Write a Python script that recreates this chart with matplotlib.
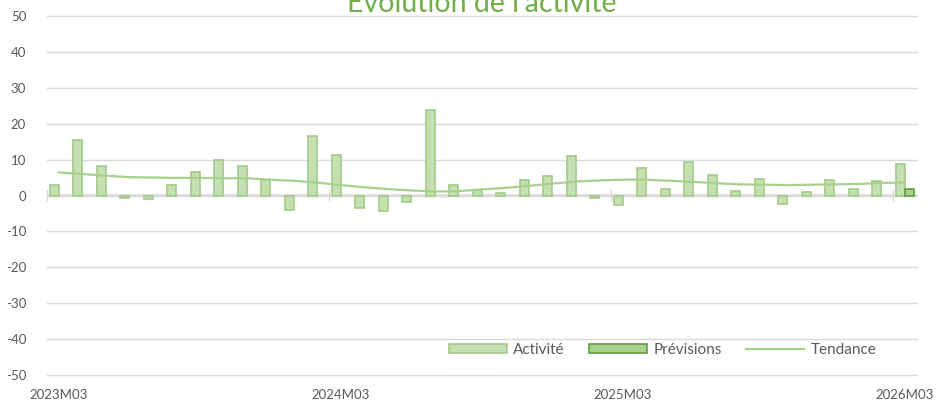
import numpy as np
import pandas as pd
import matplotlib
matplotlib.use("Agg")
import matplotlib.pyplot as plt
from matplotlib.patches import Patch
from matplotlib.lines import Line2D

plt.rcParams['font.family'] = ['Lato', 'DejaVu Sans']
plt.rcParams['axes.unicode_minus'] = False

# catégories mensuelles 2023M03 -> 2026M03
mois = [f"{p.year}M{p.month:02d}" for p in pd.period_range("2023-03", periods=37, freq="M")]

# activité mensuelle
activite = [2.8, 15.4, 8.3, -0.6, -1.0, 2.8, 6.6, 10.0, 8.1, 4.4,
            -4.0, 16.6, 11.2, -3.6, -4.4, -1.8, 23.7, 2.8, 1.4, 0.6,
            4.2, 5.4, 11.0, -0.8, -2.7, 7.7, 1.7, 9.4, 5.6, 1.3,
            4.5, -2.3, 1.0, 4.2, 1.9, 3.9, 8.8]

# prévisions (seulement le dernier mois)
mois_prev = ["2026M03"]
previsions = [1.8]

# tendance
tendance = [6.4, 6.0, 5.5, 5.1, 5.0, 4.9, 4.9, 4.8, 4.8, 4.4,
            4.1, 3.6, 2.9, 2.3, 1.8, 1.4, 1.1, 1.2, 1.7, 2.1,
            2.7, 3.3, 3.9, 4.2, 4.4, 4.4, 4.1, 3.8, 3.4, 3.1,
            3.0, 2.9, 3.0, 3.1, 3.2, 3.5, 3.6]

vert_clair = '#c5e0b3'
vert_bord = '#a3cb88'
vert_prev = '#a9d18e'
vert_prev_bord = '#5f9e43'
gris = '#d9d9d9'
texte = '#595959'

fig = plt.figure(figsize=(9.4, 4.04), dpi=100)
ax = fig.add_axes([47 / 940, 1 - 375 / 404, 869.5 / 940, 359 / 404])

x = np.arange(len(mois))
w = 0.38
ax.bar(x - w / 2, activite, width=w, color=vert_clair, edgecolor=vert_bord, linewidth=1.2, zorder=3)
x_prev = [mois.index(m) for m in mois_prev]
ax.bar(np.array(x_prev) + w / 2, previsions, width=w, color=vert_prev,
       edgecolor=vert_prev_bord, linewidth=1.2, zorder=3)
ax.plot(x, tendance, color=vert_prev, linewidth=1.6, zorder=4)

ax.set_xlim(-0.5, len(mois) - 0.5)
ax.set_ylim(-50, 50)
ax.set_yticks(np.arange(-50, 51, 10))
ax.yaxis.grid(True, color=gris, linewidth=1)
for gl in ax.get_ygridlines():
    gl.set_clip_on(False)
ax.set_axisbelow(True)
for s in ax.spines.values():
    s.set_visible(False)
ax.tick_params(axis='y', length=0, pad=15, labelsize=9.5, labelcolor=texte)

# étiquettes en bas, une par an
ax.set_xticks(x[::12])
ax.set_xticklabels(mois[::12])
ax.tick_params(axis='x', length=0, pad=10, labelsize=9.5, labelcolor=texte)

# axe horizontal à zéro avec graduations
sec = ax.secondary_xaxis(0.5)
sec.set_xticks(np.arange(-0.5, len(mois), 12))
sec.set_xticklabels([])
sec.tick_params(axis='x', direction='inout', length=8, color=gris, width=1)
for s in sec.spines.values():
    s.set_color(gris)
    s.set_linewidth(1.2)

fig.text(0.512, 1 - 12.5 / 404, "Évolution de l'activité", ha='center', va='baseline',
         fontsize=20.5, color='#70ad47')

handles = [Patch(facecolor=vert_clair, edgecolor=vert_bord, linewidth=1.2),
           Patch(facecolor=vert_prev, edgecolor=vert_prev_bord, linewidth=1.2),
           Line2D([0], [0], color=vert_prev, linewidth=1.6)]
ax.legend(handles, ['Activité', 'Prévisions', 'Tendance'], ncol=3, frameon=False,
          loc='center', bbox_to_anchor=(0.708, 0.07), fontsize=11, labelcolor=texte,
          handlelength=3.8, handleheight=0.55, handletextpad=0.4, columnspacing=1.6)

fig.savefig("out.png", dpi=100)
